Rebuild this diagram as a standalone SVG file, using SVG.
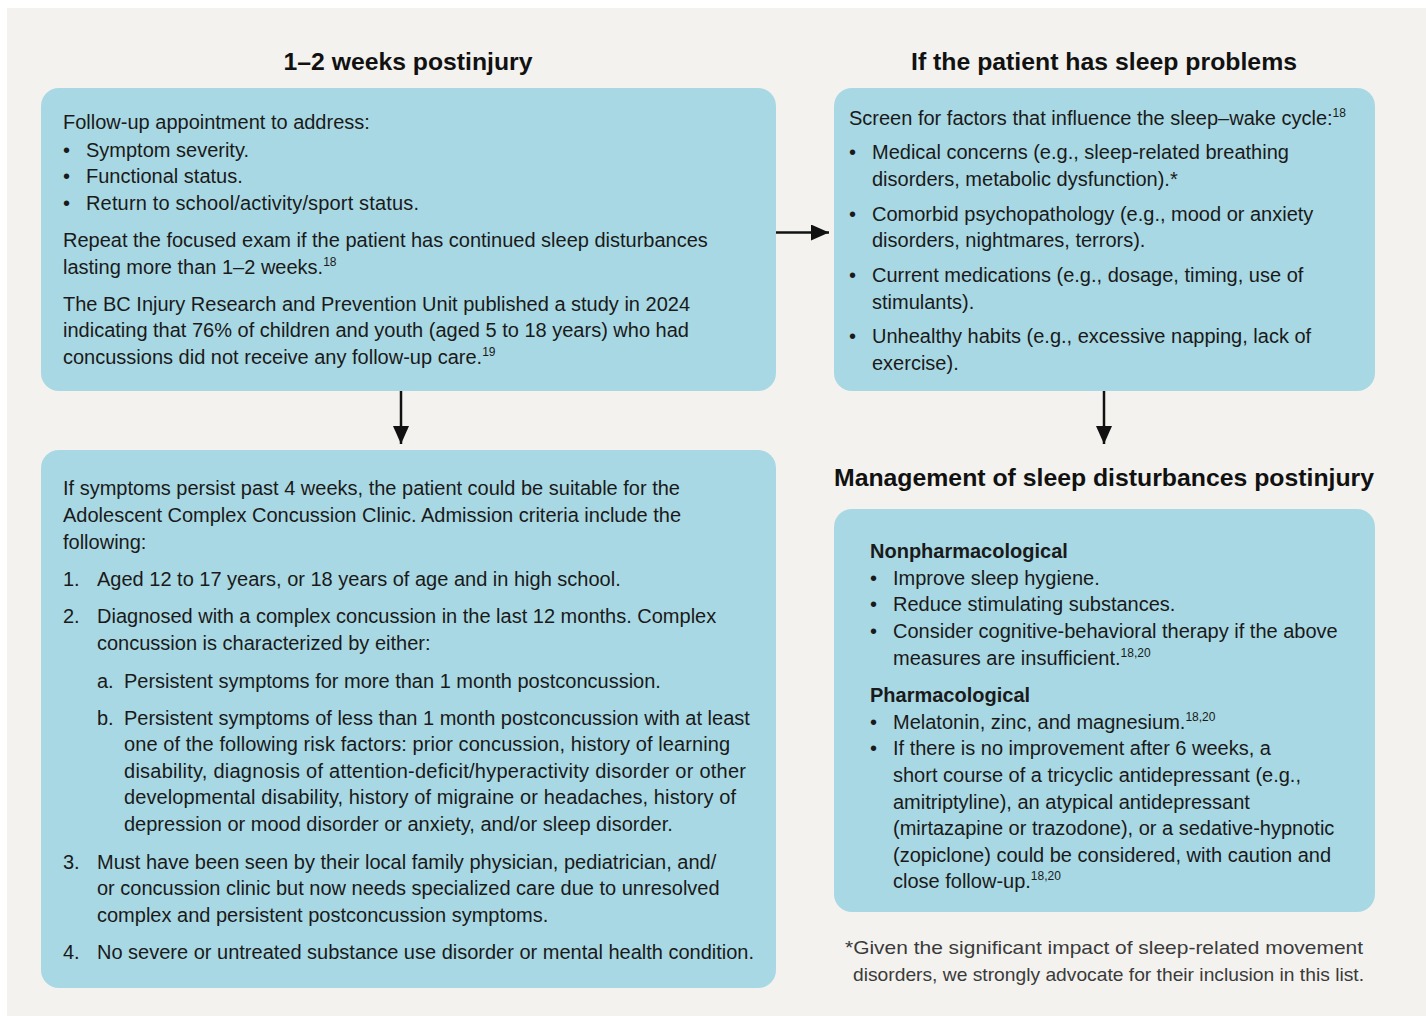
<svg xmlns="http://www.w3.org/2000/svg" width="1426" height="1016" viewBox="0 0 1426 1016">
<defs>
<style>
.bg{fill:#f3f2ee}
.box{fill:#a8d8e3}
.t{font-family:"Liberation Sans",Arial,sans-serif;font-size:20px;fill:#1a1a1a}
.b{font-weight:bold}
.h{font-family:"Liberation Sans",Arial,sans-serif;font-size:24px;font-weight:bold;fill:#111}
.fn{font-family:"Liberation Sans",Arial,sans-serif;font-size:19px;fill:#3a3a3a}
.sup{font-size:12px}
.conn{stroke:#111;stroke-width:2.5;fill:none}
</style>
<marker id="ah" viewBox="0 0 18 16" refX="18" refY="8" markerWidth="18" markerHeight="16" markerUnits="userSpaceOnUse" orient="auto">
<path d="M0,0 L18,8 L0,16 Z" fill="#111"/>
</marker>
</defs>
<rect x="0" y="0" width="1426" height="1016" fill="#ffffff"/>
<rect class="bg" x="7" y="8" width="1419" height="1008"/>

<text class="h" x="408" y="70" text-anchor="middle" textLength="249" lengthAdjust="spacingAndGlyphs">1–2 weeks postinjury</text>
<text class="h" x="1104" y="70" text-anchor="middle" textLength="386" lengthAdjust="spacingAndGlyphs">If the patient has sleep problems</text>
<text class="h" x="1104" y="486" text-anchor="middle" textLength="540" lengthAdjust="spacingAndGlyphs">Management of sleep disturbances postinjury</text>

<g id="connectors">
<line class="conn" x1="776" y1="232.5" x2="829" y2="232.5" marker-end="url(#ah)"/>
<line class="conn" x1="401" y1="391" x2="401" y2="444" marker-end="url(#ah)"/>
<line class="conn" x1="1104" y1="391" x2="1104" y2="444" marker-end="url(#ah)"/>
</g>

<g id="node-followup">
<rect class="box" x="41" y="88" width="735" height="303" rx="18"/>
<text class="t" x="63" y="129">Follow-up appointment to address:</text>
<text class="t" x="63" y="157">•</text><text class="t" x="86" y="157">Symptom severity.</text>
<text class="t" x="63" y="183">•</text><text class="t" x="86" y="183">Functional status.</text>
<text class="t" x="63" y="210">•</text><text class="t" x="86" y="210" textLength="333" lengthAdjust="spacing">Return to school/activity/sport status.</text>
<text class="t" x="63" y="247">Repeat the focused exam if the patient has continued sleep disturbances</text>
<text class="t" x="63" y="274">lasting more than 1–2 weeks.<tspan class="sup" dy="-8">18</tspan></text>
<text class="t" x="63" y="311">The BC Injury Research and Prevention Unit published a study in 2024</text>
<text class="t" x="63" y="337">indicating that 76% of children and youth (aged 5 to 18 years) who had</text>
<text class="t" x="63" y="364">concussions did not receive any follow-up care.<tspan class="sup" dy="-8">19</tspan></text>
</g>

<g id="node-clinic">
<rect class="box" x="41" y="450" width="735" height="538" rx="18"/>
<text class="t" x="63" y="495">If symptoms persist past 4 weeks, the patient could be suitable for the</text>
<text class="t" x="63" y="522">Adolescent Complex Concussion Clinic. Admission criteria include the</text>
<text class="t" x="63" y="549">following:</text>
<text class="t" x="63" y="586">1.</text><text class="t" x="97" y="586">Aged 12 to 17 years, or 18 years of age and in high school.</text>
<text class="t" x="63" y="623">2.</text><text class="t" x="97" y="623">Diagnosed with a complex concussion in the last 12 months. Complex</text>
<text class="t" x="97" y="650">concussion is characterized by either:</text>
<text class="t" x="97" y="688">a.</text><text class="t" x="124" y="688">Persistent symptoms for more than 1 month postconcussion.</text>
<text class="t" x="97" y="725">b.</text><text class="t" x="124" y="725">Persistent symptoms of less than 1 month postconcussion with at least</text>
<text class="t" x="124" y="751" textLength="606" lengthAdjust="spacing">one of the following risk factors: prior concussion, history of learning</text>
<text class="t" x="124" y="778" textLength="622" lengthAdjust="spacing">disability, diagnosis of attention-deficit/hyperactivity disorder or other</text>
<text class="t" x="124" y="804" textLength="612" lengthAdjust="spacing">developmental disability, history of migraine or headaches, history of</text>
<text class="t" x="124" y="831">depression or mood disorder or anxiety, and/or sleep disorder.</text>
<text class="t" x="63" y="869">3.</text><text class="t" x="97" y="869">Must have been seen by their local family physician, pediatrician, and/</text>
<text class="t" x="97" y="895">or concussion clinic but now needs specialized care due to unresolved</text>
<text class="t" x="97" y="922">complex and persistent postconcussion symptoms.</text>
<text class="t" x="63" y="959">4.</text><text class="t" x="97" y="959">No severe or untreated substance use disorder or mental health condition.</text>
</g>

<g id="node-screen">
<rect class="box" x="834" y="88" width="541" height="303" rx="18"/>
<text class="t" x="849" y="125">Screen for factors that influence the sleep–wake cycle:<tspan class="sup" dy="-8">18</tspan></text>
<text class="t" x="849" y="159">•</text><text class="t" x="872" y="159">Medical concerns (e.g., sleep-related breathing</text>
<text class="t" x="872" y="186">disorders, metabolic dysfunction).*</text>
<text class="t" x="849" y="221">•</text><text class="t" x="872" y="221">Comorbid psychopathology (e.g., mood or anxiety</text>
<text class="t" x="872" y="247">disorders, nightmares, terrors).</text>
<text class="t" x="849" y="282">•</text><text class="t" x="872" y="282">Current medications (e.g., dosage, timing, use of</text>
<text class="t" x="872" y="309">stimulants).</text>
<text class="t" x="849" y="343">•</text><text class="t" x="872" y="343">Unhealthy habits (e.g., excessive napping, lack of</text>
<text class="t" x="872" y="370">exercise).</text>
</g>

<g id="node-management">
<rect class="box" x="834" y="509" width="541" height="403" rx="18"/>
<text class="t b" x="870" y="558">Nonpharmacological</text>
<text class="t" x="870" y="585">•</text><text class="t" x="893" y="585">Improve sleep hygiene.</text>
<text class="t" x="870" y="611">•</text><text class="t" x="893" y="611">Reduce stimulating substances.</text>
<text class="t" x="870" y="638">•</text><text class="t" x="893" y="638">Consider cognitive-behavioral therapy if the above</text>
<text class="t" x="893" y="665">measures are insufficient.<tspan class="sup" dy="-8">18,20</tspan></text>
<text class="t b" x="870" y="702">Pharmacological</text>
<text class="t" x="870" y="729">•</text><text class="t" x="893" y="729">Melatonin, zinc, and magnesium.<tspan class="sup" dy="-8">18,20</tspan></text>
<text class="t" x="870" y="755">•</text><text class="t" x="893" y="755">If there is no improvement after 6 weeks, a</text>
<text class="t" x="893" y="782">short course of a tricyclic antidepressant (e.g.,</text>
<text class="t" x="893" y="809">amitriptyline), an atypical antidepressant</text>
<text class="t" x="893" y="835">(mirtazapine or trazodone), or a sedative-hypnotic</text>
<text class="t" x="893" y="862">(zopiclone) could be considered, with caution and</text>
<text class="t" x="893" y="888">close follow-up.<tspan class="sup" dy="-8">18,20</tspan></text>
</g>

<g id="footnote">
<text class="fn" x="845" y="954" textLength="518" lengthAdjust="spacingAndGlyphs">*Given the significant impact of sleep-related movement</text>
<text class="fn" x="853" y="981" textLength="511" lengthAdjust="spacingAndGlyphs">disorders, we strongly advocate for their inclusion in this list.</text>
</g>
</svg>
